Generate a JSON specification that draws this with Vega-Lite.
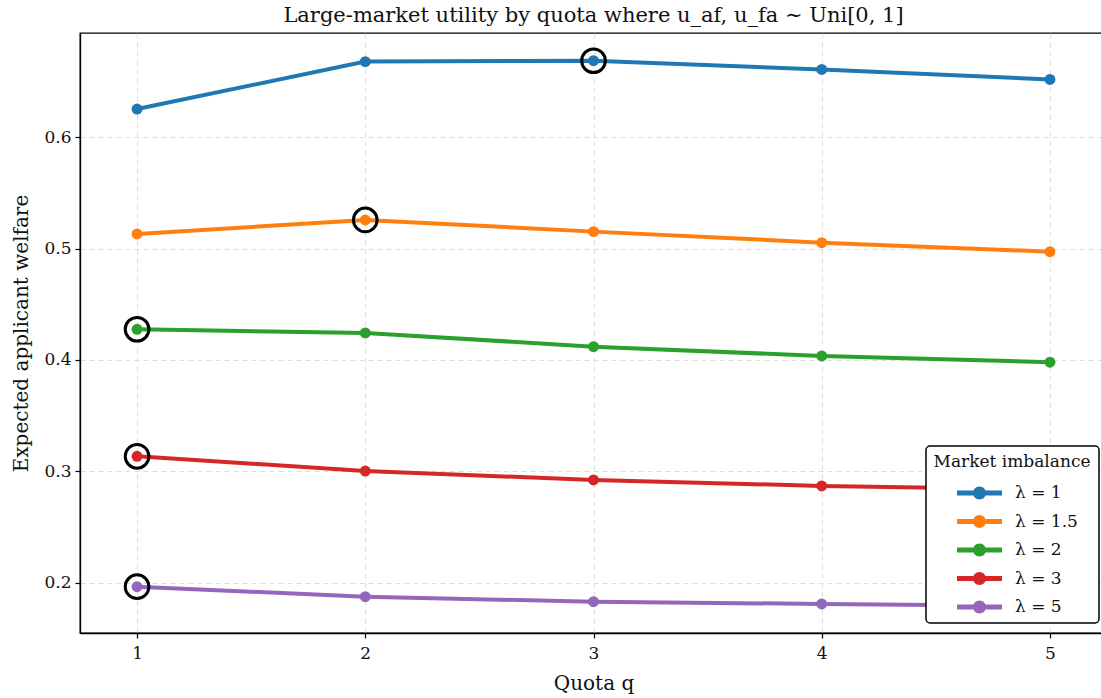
{
  "$schema": "https://vega.github.io/schema/vega-lite/v6.json",
  "width": 1027,
  "height": 600,
  "autosize": {"type": "none"},
  "padding": {"left": 80, "top": 33, "right": 0, "bottom": 65},
  "background": "white",
  "title": {
    "text": "Large-market utility by quota where u_af, u_fa ∼ Uni[0, 1]",
    "font": "DejaVu Serif",
    "fontSize": 21,
    "fontWeight": "normal",
    "color": "#111",
    "anchor": "middle",
    "offset": 7
  },
  "config": {
    "view": {"stroke": "black", "strokeWidth": 1.3},
    "axis": {
      "labelFont": "DejaVu Serif",
      "titleFont": "DejaVu Serif",
      "labelFontSize": 17,
      "titleFontSize": 20,
      "titleFontWeight": "normal",
      "labelColor": "#111",
      "titleColor": "#111",
      "domainColor": "black",
      "domainWidth": 1.3,
      "tickColor": "black",
      "tickSize": 5,
      "tickWidth": 1.2,
      "grid": true,
      "gridColor": "#dddddd",
      "gridDash": [5, 4],
      "gridWidth": 1
    }
  },
  "data": {
    "values": [
      {"q": 1, "lam": "λ = 1", "w": 0.6254, "best": false},
      {"q": 2, "lam": "λ = 1", "w": 0.6680, "best": false},
      {"q": 3, "lam": "λ = 1", "w": 0.6688, "best": true},
      {"q": 4, "lam": "λ = 1", "w": 0.6610, "best": false},
      {"q": 5, "lam": "λ = 1", "w": 0.6520, "best": false},
      {"q": 1, "lam": "λ = 1.5", "w": 0.5132, "best": false},
      {"q": 2, "lam": "λ = 1.5", "w": 0.5258, "best": true},
      {"q": 3, "lam": "λ = 1.5", "w": 0.5153, "best": false},
      {"q": 4, "lam": "λ = 1.5", "w": 0.5054, "best": false},
      {"q": 5, "lam": "λ = 1.5", "w": 0.4973, "best": false},
      {"q": 1, "lam": "λ = 2", "w": 0.4276, "best": true},
      {"q": 2, "lam": "λ = 2", "w": 0.4243, "best": false},
      {"q": 3, "lam": "λ = 2", "w": 0.4120, "best": false},
      {"q": 4, "lam": "λ = 2", "w": 0.4036, "best": false},
      {"q": 5, "lam": "λ = 2", "w": 0.3980, "best": false},
      {"q": 1, "lam": "λ = 3", "w": 0.3135, "best": true},
      {"q": 2, "lam": "λ = 3", "w": 0.3003, "best": false},
      {"q": 3, "lam": "λ = 3", "w": 0.2923, "best": false},
      {"q": 4, "lam": "λ = 3", "w": 0.2869, "best": false},
      {"q": 5, "lam": "λ = 3", "w": 0.2836, "best": false},
      {"q": 1, "lam": "λ = 5", "w": 0.1964, "best": true},
      {"q": 2, "lam": "λ = 5", "w": 0.1874, "best": false},
      {"q": 3, "lam": "λ = 5", "w": 0.1829, "best": false},
      {"q": 4, "lam": "λ = 5", "w": 0.1809, "best": false},
      {"q": 5, "lam": "λ = 5", "w": 0.1790, "best": false}
    ]
  },
  "encoding": {
    "x": {
      "field": "q",
      "type": "quantitative",
      "scale": {"domain": [0.75, 5.25], "nice": false, "zero": false},
      "axis": {"values": [1, 2, 3, 4, 5], "format": "d", "title": "Quota q", "titlePadding": 12, "labelPadding": 7}
    },
    "y": {
      "field": "w",
      "type": "quantitative",
      "scale": {"domain": [0.1548, 0.6937], "nice": false, "zero": false},
      "axis": {"values": [0.2, 0.3, 0.4, 0.5, 0.6], "format": ".1f", "title": "Expected applicant welfare", "titlePadding": 12, "labelPadding": 4}
    },
    "color": {
      "field": "lam",
      "type": "nominal",
      "scale": {"range": ["#1f77b4", "#ff7f0e", "#2ca02c", "#d62728", "#9467bd"]},
      "legend": {
        "title": "Market imbalance",
        "orient": "none",
        "legendX": 846,
        "legendY": 413,
        "titleFont": "DejaVu Serif",
        "titleFontSize": 17,
        "titleFontWeight": "normal",
        "titleColor": "#111",
        "titleAnchor": "middle",
        "titlePadding": 12,
        "labelFont": "DejaVu Serif",
        "labelFontSize": 17,
        "labelColor": "#111",
        "padding": 8,
        "rowPadding": 10.5,
        "symbolType": "M0,-0.25L4.5,-0.25L4.5,0.25L0,0.25Z M2.9,0A0.65,0.65 0 1,1 1.6,0A0.65,0.65 0 1,1 2.9,0Z",
        "symbolSize": 400,
        "symbolStrokeWidth": 0,
        "labelOffset": 48,
        "fillColor": "white",
        "strokeColor": "black",
        "cornerRadius": 4,
        "encode": {
          "symbols": {"update": {"fill": {"scale": "color", "field": "value"}, "stroke": {"value": "transparent"}, "opacity": {"value": 1}}},
          "legend": {"update": {"strokeWidth": {"value": 1.5}}}
        }
      }
    }
  },
  "layer": [
    {"mark": {"type": "line", "strokeWidth": 4}},
    {"mark": {"type": "point", "filled": true, "size": 120, "opacity": 1}},
    {
      "transform": [{"filter": "datum.best"}],
      "mark": {"type": "point", "filled": false, "size": 560, "stroke": "black", "strokeWidth": 3, "opacity": 1},
      "encoding": {"color": {"value": "black"}}
    }
  ]
}
